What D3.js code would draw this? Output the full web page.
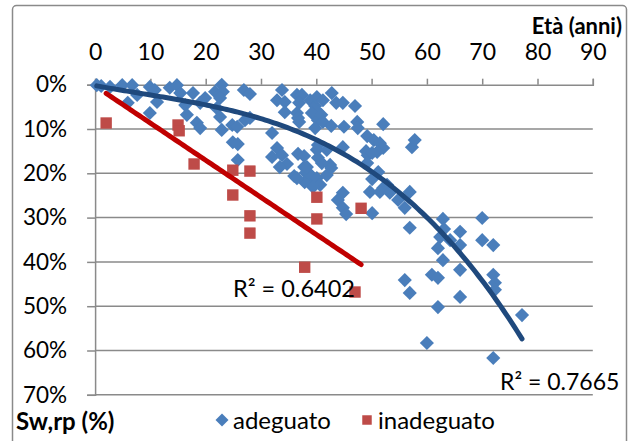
<!DOCTYPE html>
<html lang="it">
<head>
  <meta charset="UTF-8">
  <title>Sw,rp vs Età</title>
  <script src="https://d3js.org/d3.v7.min.js"></script>
  <style>
    html, body { margin: 0; padding: 0; background: #fff; }
    text { font-family: Lato, "Open Sans", sans-serif; fill: #000; }
    .grid line { stroke: #8a8a8a; stroke-width: 1.5px; }
    .axis path, .axis line { stroke: #8a8a8a; stroke-width: 1.5px; }
  </style>
</head>
<body>
<div id="chart"></div>
<script>
  // età (anni) and Sw,rp (%) per campione
  const etaAdeguato = [0.3, 1.1, 2.7, 4.9, 6.7, 7.6, 5.9, 9.9, 10.8, 11.2, 9.9, 13.5, 14.8, 15.4, 16.3, 16.6, 18.4, 19.0, 17.7, 19.0, 19.9,
    21.7, 22.0, 22.9, 23.1, 22.6, 22.6, 22.9, 24.8, 25.7, 24.9, 25.8, 25.8, 26.9, 28.0, 27.1, 28.0,
    32.9, 33.8, 34.3, 34.3, 36.5, 37.4, 36.9, 36.5, 36.7, 36.9, 32.0, 32.9, 33.8, 32.0, 34.7, 36.0, 33.4, 36.7, 37.8, 37.8, 38.1, 39.2, 37.9, 39.0, 36.5,
    38.9, 39.8, 40.1, 41.2, 40.3, 39.2, 39.8, 40.3, 40.9, 41.2, 40.3, 40.1, 40.3, 41.0, 42.5, 41.9, 38.3, 40.1, 41.9, 40.7, 39.4,
    42.8, 43.6, 44.8, 47.0, 42.7, 45.0, 47.4, 47.5, 49.2, 50.4, 51.5, 52.1, 51.0, 49.3, 52.1, 57.3, 57.8, 44.8, 49.0, 50.1,
    42.7, 50.1, 51.2, 49.2, 52.8, 52.1, 49.7, 51.5, 53.3, 56.9, 44.8, 43.9, 44.8, 45.4, 50.1, 54.8, 56.0, 56.9,
    62.9, 63.1, 62.4, 64.2, 62.0, 62.9, 66.0, 66.0, 66.0, 60.9, 62.0, 70.0, 70.0, 72.0, 72.0, 72.3, 72.3, 62.0, 66.0, 60.0, 72.0, 77.2, 56.0, 56.9];
  const swAdeguato = [0.1, 0.3, 0.5, 0.1, 0.1, 2.3, 4.1, 0.5, 1.2, 3.9, 6.4, 0.7, 0.1, 1.9, 4.6, 6.8, 8.6, 9.8, 1.9, 4.1, 3.0,
    1.6, 5.3, 0.0, 1.6, 3.0, 7.3, 10.2, 9.1, 9.5, 13.0, 13.4, 17.0, 1.2, 2.1, 8.0, 7.5,
    3.5, 1.2, 3.9, 6.2, 2.3, 2.3, 4.1, 6.4, 7.5, 8.4, 10.9, 14.3, 15.9, 16.3, 17.9, 20.6, 18.6, 15.6, 16.1, 18.6, 19.9, 21.5, 22.0, 20.4, 21.1,
    3.5, 4.8, 2.8, 3.5, 6.2, 6.4, 9.8, 8.0, 6.8, 8.4, 13.6, 14.7, 16.5, 17.7, 18.1, 14.7, 18.6, 21.1, 20.4, 22.6, 23.1,
    1.9, 4.1, 4.1, 4.8, 9.3, 9.5, 8.4, 9.8, 11.6, 12.5, 13.2, 14.3, 15.2, 15.9, 8.9, 14.1, 12.5, 14.1, 15.0, 15.4,
    18.8, 21.3, 19.7, 17.7, 22.6, 23.3, 24.2, 24.2, 24.4, 24.2, 24.4, 26.0, 27.8, 29.2, 29.0, 26.0, 27.8, 32.3,
    30.3, 32.6, 34.4, 35.1, 36.9, 39.6, 33.2, 36.2, 41.8, 42.9, 43.6, 30.1, 35.1, 36.2, 42.9, 44.7, 46.3, 50.2, 47.9, 58.3, 61.7, 52.0, 44.1, 47.0];
  const etaInadeguato = [2.0, 15.0, 15.2, 17.9, 24.9, 28.0, 24.9, 28.0, 28.0, 40.1, 40.1, 48.1, 37.9, 47.0];
  const swInadeguato = [8.65, 9.1, 10.4, 17.9, 19.3, 19.5, 24.9, 29.6, 33.5, 25.4, 30.3, 27.9, 41.2, 46.8];

  const xTicks = [0, 10, 20, 30, 40, 50, 60, 70, 80, 90];
  const yTicks = [0, 10, 20, 30, 40, 50, 60, 70];

  // linee di tendenza: coefficienti polinomiali (c0, c1, c2, c3)
  const trendAdeguato = [0.2, 0.2309, -0.003209, 0.0001271];
  const trendInadeguato = [0.29, 0.838];
  const r2Adeguato = 'R² = 0.7665';
  const r2Inadeguato = 'R² = 0.6402';

  const width = 632, height = 441;
  const svg = d3.select('#chart').append('svg')
    .attr('width', width).attr('height', height);

  // bordo del grafico
  svg.append('rect')
    .attr('x', 12.5).attr('y', 5.5).attr('width', 614).attr('height', 450)
    .attr('rx', 4)
    .attr('fill', '#fff').attr('stroke', '#8a8a8a').attr('stroke-width', 1.5);

  const x = d3.scaleLinear().domain([0, 90]).range([95.1, 592.8]);
  const y = d3.scaleLinear().domain([0, 70]).range([84.7, 394.8]);

  // griglia orizzontale
  svg.append('g').attr('class', 'grid')
    .selectAll('line').data(yTicks.filter(d => d > 0)).join('line')
    .attr('x1', x(0)).attr('x2', x(90))
    .attr('y1', d => y(d)).attr('y2', d => y(d));

  const yAxis = d3.axisLeft(y).tickValues(yTicks).tickSize(8).tickPadding(20)
    .tickFormat(d => d + '%');
  svg.append('g').attr('class', 'axis')
    .attr('transform', `translate(${x(0)},0)`)
    .call(yAxis)
    .call(g => g.selectAll('text').attr('font-size', 22.5));

  const xAxis = d3.axisTop(x).tickValues(xTicks).tickSize(6).tickPadding(20)
    .tickSizeOuter(6);
  svg.append('g').attr('class', 'axis')
    .attr('transform', `translate(0,${y(0)})`)
    .call(xAxis)
    .call(g => g.selectAll('text').attr('font-size', 23).attr('dy', '0.05em'));

  // punti
  const adeguato = etaAdeguato.map((e, i) => ({ eta: e, sw: swAdeguato[i] }));
  const inadeguato = etaInadeguato.map((e, i) => ({ eta: e, sw: swInadeguato[i] }));

  const diamond = d3.symbol().type(d3.symbolSquare).size(100);
  const square = d3.symbol().type(d3.symbolSquare).size(130);

  svg.append('g').selectAll('path').data(adeguato).join('path')
    .attr('d', diamond)
    .attr('transform', d => `translate(${x(d.eta)},${y(d.sw)}) rotate(45)`)
    .attr('fill', '#4A7EBB');

  svg.append('g').selectAll('path').data(inadeguato).join('path')
    .attr('d', square)
    .attr('transform', d => `translate(${x(d.eta)},${y(d.sw)})`)
    .attr('fill', '#BE4B48');

  // linee di tendenza
  const poly = (c, v) => c.reduce((s, k, i) => s + k * Math.pow(v, i), 0);
  const trendPoints = (eta, c) => {
    const [lo, hi] = d3.extent(eta);
    return d3.range(lo, hi, 0.5).concat([hi]).map(v => [v, poly(c, v)]);
  };
  const line = d3.line().x(d => x(d[0])).y(d => y(d[1]));

  svg.append('path')
    .attr('d', line(trendPoints(etaInadeguato, trendInadeguato)))
    .attr('fill', 'none').attr('stroke', '#C00000').attr('stroke-width', 5)
    .attr('stroke-linecap', 'round');

  svg.append('path')
    .attr('d', line(trendPoints(etaAdeguato, trendAdeguato)))
    .attr('fill', 'none').attr('stroke', '#1F497D').attr('stroke-width', 5)
    .attr('stroke-linecap', 'round');

  // etichette R²
  svg.append('text').attr('x', 233).attr('y', 297).attr('font-size', 23.5).text(r2Inadeguato);
  svg.append('text').attr('x', 500).attr('y', 390).attr('font-size', 23).text(r2Adeguato);

  // titoli assi
  svg.append('text').attr('x', 622).attr('y', 34).attr('text-anchor', 'end')
    .attr('font-size', 22).attr('font-weight', 'bold').text('Età (anni)');
  svg.append('text').attr('x', 16).attr('y', 430)
    .attr('font-size', 24).attr('font-weight', 'bold').text('Sw,rp (%)');

  // legenda
  const legend = svg.append('g');
  legend.append('path').attr('d', d3.symbol().type(d3.symbolSquare).size(85))
    .attr('transform', 'translate(222,420) rotate(45)').attr('fill', '#4A7EBB');
  legend.append('text').attr('x', 233).attr('y', 429).attr('font-size', 24).text('adeguato');
  legend.append('path').attr('d', d3.symbol().type(d3.symbolSquare).size(90))
    .attr('transform', 'translate(367,420)').attr('fill', '#BE4B48');
  legend.append('text').attr('x', 378).attr('y', 429).attr('font-size', 24).text('inadeguato');
</script>
</body>
</html>
